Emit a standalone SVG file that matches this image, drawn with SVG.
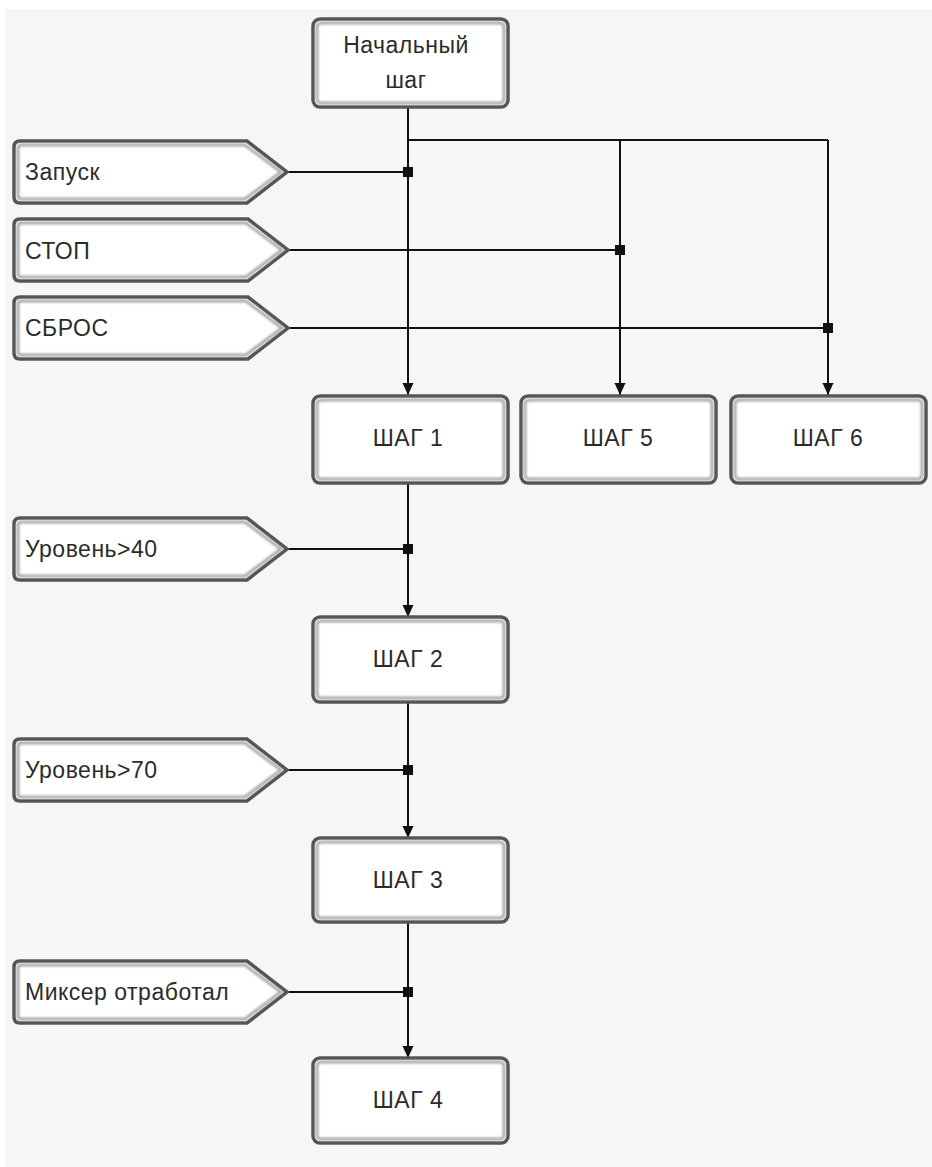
<svg xmlns="http://www.w3.org/2000/svg" width="932" height="1167" viewBox="0 0 932 1167">
<defs>
<style>
.bg{fill:#f6f6f6}
.box{fill:#ffffff;stroke:#555555;stroke-width:3.5}
.inner{fill:none;stroke:#a8a8a8;stroke-width:3;filter:url(#soft)}
.t{font-family:"Liberation Sans",Arial,sans-serif;font-size:23px;letter-spacing:0.5px;fill:#2b2b2b}
.c{text-anchor:middle}
.ln{stroke:#111111;stroke-width:2;fill:none}
.jn{fill:#111111}
</style>
<filter id="soft" x="-5%" y="-5%" width="110%" height="110%">
<feGaussianBlur stdDeviation="1.1"/>
</filter>
<marker id="arr" markerUnits="userSpaceOnUse" markerWidth="12" markerHeight="12" viewBox="0 0 12 12" refX="12" refY="6" orient="auto">
<path d="M0,0.5 L12,6 L0,11.5 Z" fill="#111111"/>
</marker>
</defs>
<rect x="0" y="0" width="932" height="1167" fill="#ffffff"/>
<rect class="bg" x="5" y="9" width="927" height="1158"/>

<g id="connectors">
<path class="ln" d="M408,107 V395" marker-end="url(#arr)"/>
<path class="ln" d="M408,140 H828"/>
<path class="ln" d="M620,140 V395" marker-end="url(#arr)"/>
<path class="ln" d="M828,140 V395" marker-end="url(#arr)"/>
<path class="ln" d="M287,172 H408"/>
<path class="ln" d="M288,250 H620"/>
<path class="ln" d="M288,328 H828"/>
<path class="ln" d="M408,483 V617" marker-end="url(#arr)"/>
<path class="ln" d="M287,549 H408"/>
<path class="ln" d="M408,702 V838" marker-end="url(#arr)"/>
<path class="ln" d="M287,770 H408"/>
<path class="ln" d="M408,922 V1058" marker-end="url(#arr)"/>
<path class="ln" d="M287,992 H408"/>
<rect class="jn" x="403" y="167" width="10" height="10"/>
<rect class="jn" x="615" y="245" width="10" height="10"/>
<rect class="jn" x="823" y="323" width="10" height="10"/>
<rect class="jn" x="403" y="544" width="10" height="10"/>
<rect class="jn" x="403" y="765" width="10" height="10"/>
<rect class="jn" x="403" y="987" width="10" height="10"/>
</g>

<g id="start">
<rect class="box" x="313" y="19" width="195" height="88" rx="7"/>
<rect class="inner" x="317" y="23" width="187" height="80" rx="4"/>
<text class="t c" x="406" y="53">Начальный</text>
<text class="t c" x="406" y="88">шаг</text>
</g>

<g id="zapusk">
<path class="box" d="M20,141 H247 L287,172 L247,203 H20 Q14,203 14,197 V147 Q14,141 20,141 Z"/>
<path class="inner" d="M21,145 H245 L281,172 L245,199 H21 Q18,199 18,196 V148 Q18,145 21,145 Z"/>
<text class="t" x="25" y="180">Запуск</text>
</g>

<g id="stop">
<path class="box" d="M20,219 H248 L288,250 L248,281 H20 Q14,281 14,275 V225 Q14,219 20,219 Z"/>
<path class="inner" d="M21,223 H246 L282,250 L246,277 H21 Q18,277 18,274 V226 Q18,223 21,223 Z"/>
<text class="t" x="25" y="259">СТОП</text>
</g>

<g id="sbros">
<path class="box" d="M20,297 H248 L288,328 L248,359 H20 Q14,359 14,353 V303 Q14,297 20,297 Z"/>
<path class="inner" d="M21,301 H246 L282,328 L246,355 H21 Q18,355 18,352 V304 Q18,301 21,301 Z"/>
<text class="t" x="25" y="336">СБРОС</text>
</g>

<g id="step1">
<rect class="box" x="313" y="396" width="195" height="87" rx="7"/>
<rect class="inner" x="317" y="400" width="187" height="79" rx="4"/>
<text class="t c" x="408" y="446">ШАГ 1</text>
</g>

<g id="step5">
<rect class="box" x="521" y="396" width="195" height="87" rx="7"/>
<rect class="inner" x="525" y="400" width="187" height="79" rx="4"/>
<text class="t c" x="618" y="446">ШАГ 5</text>
</g>

<g id="step6">
<rect class="box" x="731" y="396" width="195" height="87" rx="7"/>
<rect class="inner" x="735" y="400" width="187" height="79" rx="4"/>
<text class="t c" x="828" y="446">ШАГ 6</text>
</g>

<g id="level40">
<path class="box" d="M20,518 H247 L287,549 L247,580 H20 Q14,580 14,574 V524 Q14,518 20,518 Z"/>
<path class="inner" d="M21,522 H245 L281,549 L245,576 H21 Q18,576 18,573 V525 Q18,522 21,522 Z"/>
<text class="t" x="25" y="557">Уровень&gt;40</text>
</g>

<g id="step2">
<rect class="box" x="313" y="617" width="195" height="85" rx="7"/>
<rect class="inner" x="317" y="621" width="187" height="77" rx="4"/>
<text class="t c" x="408" y="667">ШАГ 2</text>
</g>

<g id="level70">
<path class="box" d="M20,739 H247 L287,770 L247,801 H20 Q14,801 14,795 V745 Q14,739 20,739 Z"/>
<path class="inner" d="M21,743 H245 L281,770 L245,797 H21 Q18,797 18,794 V746 Q18,743 21,743 Z"/>
<text class="t" x="25" y="778">Уровень&gt;70</text>
</g>

<g id="step3">
<rect class="box" x="313" y="838" width="195" height="84" rx="7"/>
<rect class="inner" x="317" y="842" width="187" height="76" rx="4"/>
<text class="t c" x="408" y="888">ШАГ 3</text>
</g>

<g id="mixer">
<path class="box" d="M20,961 H247 L287,992 L247,1023 H20 Q14,1023 14,1017 V967 Q14,961 20,961 Z"/>
<path class="inner" d="M21,965 H245 L281,992 L245,1019 H21 Q18,1019 18,1016 V968 Q18,965 21,965 Z"/>
<text class="t" x="25" y="1000">Миксер отработал</text>
</g>

<g id="step4">
<rect class="box" x="313" y="1058" width="195" height="85" rx="7"/>
<rect class="inner" x="317" y="1062" width="187" height="77" rx="4"/>
<text class="t c" x="408" y="1108">ШАГ 4</text>
</g>
</svg>
